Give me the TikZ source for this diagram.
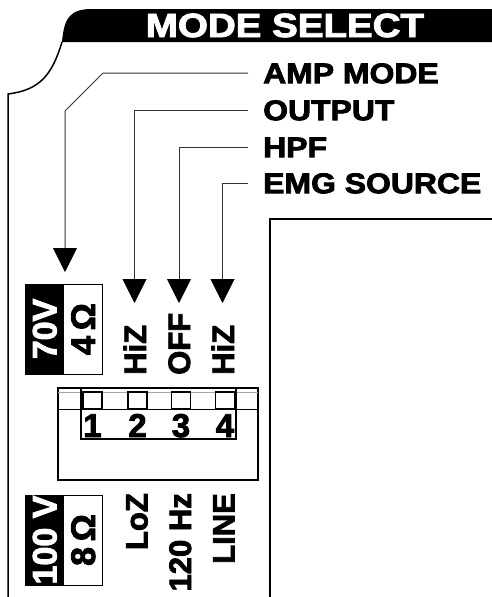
\documentclass[tikz,border=0pt]{standalone}
\usepackage{fontspec}
\usepackage{graphicx}
\setmainfont{Liberation Sans}[BoldFeatures={FakeBold=2.6}]
\usetikzlibrary{arrows.meta}

\begin{document}
\begin{tikzpicture}[x=1pt,y=-1pt,
    title/.style={anchor=base,inner sep=0pt,text=white,
      font=\fontsize{33.5}{33.5}\selectfont\bfseries},
    lbl/.style={anchor=west,inner sep=0pt,text height=20.4pt,text depth=0pt,
      font=\fontsize{28.5}{28.5}\selectfont\bfseries},
    swlbl/.style={rotate=90,inner sep=0pt,text height=22pt,text depth=0pt,
      font=\fontsize{31}{31}\selectfont\bfseries},
    vbox/.style={rotate=90,draw,line width=1pt,inner sep=0pt,
      minimum width=90pt,minimum height=38.5pt,text height=24pt,text depth=0pt,
      font=\fontsize{34}{34}\selectfont\bfseries},
    digit/.style={anchor=base,inner sep=0pt,
      font=\fontsize{33}{33}\selectfont\bfseries},
    lead/.style={draw=black!80,line width=1pt},
    pointer/.style={lead,-{Triangle[width=24pt,length=24pt,color=black]}}]

    \useasboundingbox (0,0) rectangle (492,597);

    % Draw header band
    \fill[black] (62,42) .. controls (64,18) and (70,9) .. (92,9)
      -- (492,9) -- (492,42) -- cycle;
    \node[title] (mode) at (285,37) {\scalebox{1.15}[1]{MODE SELECT}};

    % Draw panel outline
    \draw[line width=1.5pt] (62,42) .. controls (52,75) and (40,90) .. (8,94)
      -- (8,597);
    \draw[line width=1.5pt] (492,219) -- (270,219) -- (270,597);

    % Labels of the switches
    \node[lbl] (amp) at (263,73) {\scalebox{1.12}[1]{AMP MODE}};
    \node[lbl] (out) at (263,110) {\scalebox{1.12}[1]{OUTPUT}};
    \node[lbl] (hpf) at (263,147) {\scalebox{1.12}[1]{HPF}};
    \node[lbl] (emg) at (263,183) {\scalebox{1.12}[1]{EMG SOURCE}};

    % Arrow tips
    \coordinate (ampTip) at (65,272);
    \coordinate (outTip) at (134.5,303);
    \coordinate (hpfTip) at (179,303);
    \coordinate (emgTip) at (222.5,303);

    % Draw leaders
    \draw[pointer] ([xshift=-15pt]amp.west) -- ++(-145,0) -- ++(-38,38)
      -- (ampTip);
    \draw[pointer] ([xshift=-15pt]out.west) -| (outTip);
    \draw[pointer] ([xshift=-15pt]hpf.west) -| (hpfTip);
    \draw[pointer] ([xshift=-15pt]emg.west) -| (emgTip);

    % Amp mode boxes
    \node[vbox,fill=black,text=white] (v70) at (44.5,329) {70V};
    \node[vbox] (ohm4) at (83,329) {4\,Ω};
    \node[vbox,fill=black,text=white] (v100) at (44.5,540) {100 V};
    \node[vbox] (ohm8) at (83,540) {8\,Ω};

    % Switch settings, up position
    \node[swlbl,anchor=west] (hizA) at (135,375) {HiZ};
    \node[swlbl,anchor=west] (off) at (179,375) {OFF};
    \node[swlbl,anchor=west] (hizB) at (223,375) {HiZ};

    % Switch settings, down position
    \node[swlbl,anchor=east] (loz) at (136.5,493) {LoZ};
    \node[swlbl,anchor=east] (hz) at (180,493) {120 Hz};
    \node[swlbl,anchor=east] (line) at (223.5,493) {LINE};

    % Draw DIP switch
    \draw[line width=2.4pt] (58,388) rectangle (258,480);
    \draw[black!35,line width=0.6pt] (58,392) -- (258,392);
    \draw[line width=1pt] (58,409) -- (258,409);
    \draw[line width=1.3pt] (81,388) -- (81,439) -- (236,439) -- (236,388);
    \foreach \x/\n in {92.5/1,137.5/2,181/3,225/4} {
      \draw[line width=1.2pt] (\x-9.5,392) rectangle (\x+9.5,409);
      \node[digit] (dip\n) at (\x,437) {\n};
    }
\end{tikzpicture}
\end{document}
